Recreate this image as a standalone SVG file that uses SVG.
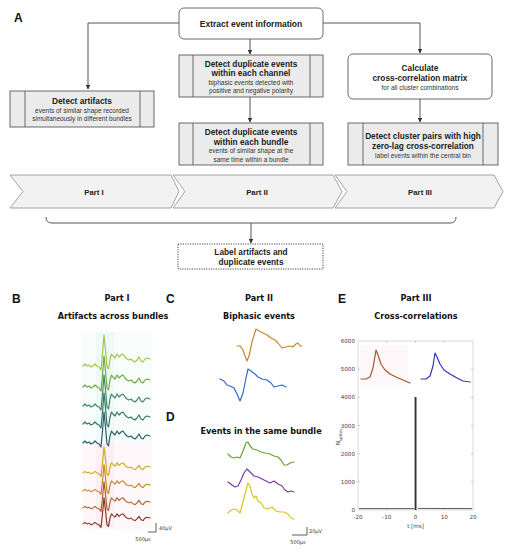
<svg xmlns="http://www.w3.org/2000/svg" width="509" height="550" viewBox="0 0 509 550">
<style>
.bx{fill:#ebebeb;stroke:#5a5a5a;stroke-width:0.9}
.rb{fill:#fff;stroke:#5a5a5a;stroke-width:0.9}
.dv{stroke:#5a5a5a;stroke-width:0.9}
.ch{fill:#f2f2f2;stroke:#9a9a9a;stroke-width:0.9}
.cn{fill:none;stroke:#555;stroke-width:1}
.h{font-family:"Liberation Sans",Arial,sans-serif;font-weight:bold;font-size:8.3px;fill:#222;text-anchor:middle}
.s{font-family:"Liberation Sans",Arial,sans-serif;font-size:6.5px;fill:#333;text-anchor:middle}
.L{font-family:"Liberation Sans",Arial,sans-serif;font-weight:bold;font-size:12px;fill:#111}
.t{font-family:"DejaVu Sans",sans-serif;font-weight:bold;font-size:8.1px;fill:#111;text-anchor:middle}
.ax{font-family:"DejaVu Sans",sans-serif;font-size:5.6px;fill:#444}
.sc{font-family:"DejaVu Sans",sans-serif;font-size:5px;fill:#333}
.w{fill:none;stroke-width:1.2;stroke-linejoin:round;stroke-linecap:round}
</style>
<defs>
<marker id="ar" viewBox="0 0 10 10" refX="9" refY="5" markerWidth="5" markerHeight="5" orient="auto">
<path d="M0,0 L10,5 L0,10 Z" fill="#333"/>
</marker>
<path id="sp" d="M0,0 L2,-2 L4,0 L6,-1 L8,1 L10,0 L12,-2 L14,0 L16,1 L18,4 L19.5,-12 L21,-31 L22.5,-16 L24,1 L25.5,3 L27,-7 L28.5,-12 L30,-10 L32,-8 L34,-12 L36,-9 L38,-11 L40,-12 L42,-9 L44,-7 L46,-6 L48,-7 L50,-5 L52,-4 L54,-6 L56,-9 L58,-5 L60,-4 L62,-7 L64,-8 L67,-7"/>
</defs>
<rect width="509" height="550" fill="#fff"/>

<text class="L" x="14" y="22">A</text>

<g id="connectors">
<path class="cn" d="M179,23 L88,23 L88,89" marker-end="url(#ar)"/>
<path class="cn" d="M323,23 L420,23 L420,53" marker-end="url(#ar)"/>
<path class="cn" d="M250,39 L250,54" marker-end="url(#ar)"/>
<path class="cn" d="M250,97 L250,122" marker-end="url(#ar)"/>
<path class="cn" d="M420,99 L420,122" marker-end="url(#ar)"/>
<path class="cn" d="M46,217 Q46,223 52,223 L450,223 Q456,223 456,217"/>
<path class="cn" d="M251,223 L251,243" marker-end="url(#ar)"/>
</g>

<g id="extract">
<rect class="rb" x="179" y="8" width="144" height="31" rx="5"/>
<text class="h" x="251" y="26.5" style="font-size:8.5px">Extract event information</text>
</g>

<g id="artifacts">
<rect class="bx" x="10" y="91" width="144" height="36"/>
<line class="dv" x1="25" y1="91" x2="25" y2="127"/>
<line class="dv" x1="140" y1="91" x2="140" y2="127"/>
<text class="h" x="82" y="104">Detect artifacts</text>
<text class="s" x="82" y="112.5">events of similar shape recorded</text>
<text class="s" x="82" y="120.5">simultaneously in different bundles</text>
</g>

<g id="dup-channel">
<rect class="bx" x="179" y="55" width="144" height="42"/>
<line class="dv" x1="193" y1="55" x2="193" y2="97"/>
<line class="dv" x1="310" y1="55" x2="310" y2="97"/>
<text class="h" x="251" y="66.5">Detect duplicate events</text>
<text class="h" x="251" y="76">within each channel</text>
<text class="s" x="251" y="84.5">biphasic events detected with</text>
<text class="s" x="251" y="93">positive and negative polarity</text>
</g>

<g id="dup-bundle">
<rect class="bx" x="179" y="123" width="144" height="42"/>
<line class="dv" x1="193" y1="123" x2="193" y2="165"/>
<line class="dv" x1="310" y1="123" x2="310" y2="165"/>
<text class="h" x="251" y="135">Detect duplicate events</text>
<text class="h" x="251" y="144.5">within each bundle</text>
<text class="s" x="251" y="153">events of similar shape at the</text>
<text class="s" x="251" y="161.5">same time within a bundle</text>
</g>

<g id="calc">
<rect class="rb" x="348" y="54" width="144" height="45" rx="5"/>
<text class="h" x="420" y="71">Calculate</text>
<text class="h" x="420" y="81">cross-correlation matrix</text>
<text class="s" x="420" y="89.5">for all cluster combinations</text>
</g>

<g id="cluster-pairs">
<rect class="bx" x="348" y="123" width="150" height="42"/>
<line class="dv" x1="363" y1="123" x2="363" y2="165"/>
<line class="dv" x1="483" y1="123" x2="483" y2="165"/>
<text class="h" x="423" y="139">Detect cluster pairs with high</text>
<text class="h" x="423" y="149">zero-lag cross-correlation</text>
<text class="s" x="423" y="157.5">label events within the central bin</text>
</g>

<g id="part1">
<path class="ch" d="M10,175 L171,175 L179,191.5 L171,208 L10,208 L23,191.5 Z"/>
<text class="h" x="94" y="194.5" style="font-size:7.8px">Part I</text>
</g>
<g id="part2">
<path class="ch" d="M173,175 L333,175 L342,191.5 L333,208 L173,208 L185,191.5 Z"/>
<text class="h" x="257" y="194.5" style="font-size:7.8px">Part II</text>
</g>
<g id="part3">
<path class="ch" d="M335,175 L494,175 L503,191.5 L494,208 L335,208 L347,191.5 Z"/>
<text class="h" x="420" y="194.5" style="font-size:7.8px">Part III</text>
</g>

<g id="label">
<rect x="178" y="244" width="145" height="25" fill="#fff" stroke="#333" stroke-width="0.9" stroke-dasharray="1.2,1.2"/>
<text class="h" x="251" y="255">Label artifacts and</text>
<text class="h" x="251" y="265">duplicate events</text>
</g>

<!-- Panel B -->
<g id="panelB">
<text class="L" x="12" y="303">B</text>
<text class="t" x="117" y="301">Part I</text>
<text class="t" x="113" y="319">Artifacts across bundles</text>
<rect x="82" y="332" width="70" height="116" fill="#f8fdfc"/>
<rect x="96" y="332" width="18" height="116" fill="#eefaf8"/>
<rect x="82" y="443" width="70" height="86" fill="#fef8fa"/>
<rect x="96" y="443" width="18" height="86" fill="#fdeff4"/>
<use href="#sp" class="w" stroke="#a6c24a" transform="translate(83,366)"/>
<use href="#sp" class="w" stroke="#6fa848" transform="translate(83,387)"/>
<use href="#sp" class="w" stroke="#3f8a5e" transform="translate(83,406)"/>
<use href="#sp" class="w" stroke="#357468" transform="translate(83,424)"/>
<use href="#sp" class="w" stroke="#2c5f63" transform="translate(83,443)"/>
<use href="#sp" class="w" stroke="#d0aa22" transform="translate(83,473) scale(1,0.85)"/>
<use href="#sp" class="w" stroke="#c8862a" transform="translate(83,491) scale(1,0.85)"/>
<use href="#sp" class="w" stroke="#b0622e" transform="translate(83,508) scale(1,0.85)"/>
<use href="#sp" class="w" stroke="#8a3822" transform="translate(83,524) scale(1,0.85)"/>
<path d="M156,523 L156,532 L148,532" fill="none" stroke="#333" stroke-width="0.8"/>
<text class="sc" x="159" y="530">40µV</text>
<text class="sc" x="143" y="541" text-anchor="middle">500µs</text>
</g>

<!-- Panel C / D -->
<g id="panelC">
<text class="L" x="166" y="303">C</text>
<text class="t" x="259" y="301">Part II</text>
<text class="t" x="259" y="319">Biphasic events</text>
<path class="w" stroke="#c8862a" d="M237,346 L240,346 L243,350 L245,356 L247,361 L249,356 L252,342 L256,329 L259,331 L263,333 L267,335 L271,338 L275,340 L278,343 L282,348 L286,347 L290,346 L293,347 L296,344 L298,343 L300,346 L302,346"/>
<path class="w" stroke="#2f6ad0" d="M220,379 L224,381 L227,385 L230,386 L234,388 L237,394 L240,401 L243,393 L246,378 L248,369 L251,371 L255,374 L258,377 L262,379 L267,380 L271,383 L274,387 L278,386 L282,385 L286,387"/>
</g>
<g id="panelD">
<text class="L" x="166" y="421">D</text>
<text class="t" x="261" y="434">Events in the same bundle</text>
<path class="w" stroke="#6aa032" d="M228,454 L231,457 L234,458 L237,457 L240,458 L243,451 L246,443 L248,442 L250,446 L253,449 L257,450 L261,452 L265,453 L270,454 L274,456 L278,457 L281,460 L284,465 L287,465 L290,463 L294,462"/>
<path class="w" stroke="#7a3a9e" d="M228,482 L232,485 L235,487 L238,486 L241,480 L244,473 L247,469 L250,472 L254,476 L258,477 L262,479 L266,481 L270,483 L274,481 L278,484 L282,486 L285,490 L288,492 L291,491 L294,492"/>
<path class="w" stroke="#d8c623" d="M228,513 L231,510 L234,509 L237,510 L240,513 L243,502 L246,490 L248,483 L250,486 L252,494 L254,498 L256,496 L258,501 L261,503 L264,508 L268,509 L272,507 L276,511 L280,512 L284,512 L288,514 L291,518 L294,519"/>
<path d="M307,527 L307,535 L292,535" fill="none" stroke="#333" stroke-width="0.8"/>
<text class="sc" x="309" y="533">20µV</text>
<text class="sc" x="298" y="544" text-anchor="middle">500µs</text>
</g>

<!-- Panel E -->
<g id="panelE">
<text class="L" x="338" y="303">E</text>
<text class="t" x="416" y="301">Part III</text>
<text class="t" x="416" y="319">Cross-correlations</text>
<rect x="358" y="341" width="115" height="169" fill="#fff" stroke="#c8c8c8" stroke-width="0.7"/>
<g stroke="#aaa" stroke-width="0.6">
<line x1="386.75" y1="510" x2="386.75" y2="508"/><line x1="415.5" y1="510" x2="415.5" y2="508"/><line x1="444.25" y1="510" x2="444.25" y2="508"/>
<line x1="386.75" y1="341" x2="386.75" y2="343"/><line x1="415.5" y1="341" x2="415.5" y2="343"/><line x1="444.25" y1="341" x2="444.25" y2="343"/>
<line x1="358" y1="369.2" x2="360" y2="369.2"/><line x1="358" y1="397.3" x2="360" y2="397.3"/><line x1="358" y1="425.5" x2="360" y2="425.5"/><line x1="358" y1="453.7" x2="360" y2="453.7"/><line x1="358" y1="481.8" x2="360" y2="481.8"/>
<line x1="473" y1="369.2" x2="471" y2="369.2"/><line x1="473" y1="397.3" x2="471" y2="397.3"/><line x1="473" y1="425.5" x2="471" y2="425.5"/><line x1="473" y1="453.7" x2="471" y2="453.7"/><line x1="473" y1="481.8" x2="471" y2="481.8"/>
</g>
<rect x="360" y="345" width="48" height="40" fill="#fef8fa"/>
<path class="w" stroke="#a8552c" d="M361,379 L366,379 L370,377 L373,368 L376,350 L378,355 L381,364 L385,370 L390,374 L396,377 L403,380 L410,383"/>
<path class="w" stroke="#3434c4" d="M421,379 L426,379 L430,376 L433,366 L435,353 L437,357 L440,364 L444,370 L450,374 L457,378 L463,381 L470,382"/>
<path d="M359,508.6 L414,508.6 M418,508.4 L472,508.6" fill="none" stroke="#444" stroke-width="0.9"/>
<rect x="414.6" y="397" width="1.9" height="113" fill="#333"/>
<g class="ax" text-anchor="end">
<text x="355" y="343">6000</text><text x="355" y="371.2">5000</text><text x="355" y="399.3">4000</text><text x="355" y="427.5">3000</text><text x="355" y="455.7">2000</text><text x="355" y="483.8">1000</text><text x="355" y="512">0</text>
</g>
<g class="ax" text-anchor="middle">
<text x="358" y="519">-20</text><text x="386.75" y="519">-10</text><text x="415.5" y="519">0</text><text x="444.25" y="519">10</text><text x="473" y="519">20</text>
<text x="415.5" y="527.5">t [ms]</text>
</g>
<text class="ax" transform="translate(340,437) rotate(-90)" text-anchor="middle">N<tspan font-size="4px" dy="1.5">spikes</tspan></text>
</g>
</svg>
